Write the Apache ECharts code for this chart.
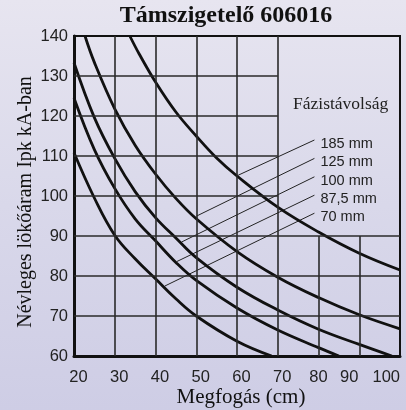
<!DOCTYPE html>
<html>
<head>
<meta charset="utf-8">
<script src="https://cdn.jsdelivr.net/npm/echarts@6/dist/echarts.min.js"></script>
<style>
html,body{margin:0;padding:0;width:406px;height:410px;overflow:hidden;
background:linear-gradient(to bottom,#e7e5f0 0%,#d9d8ea 50%,#cecde5 100%);}
#c{width:406px;height:410px;}
</style>
</head>
<body>
<div id="c"></div>
<script>
// ---- data ----
const titleText = 'Támszigetelő 606016';
const xName = 'Megfogás (cm)';
const yName = 'Névleges lökőáram Ipk kA-ban';
const legendTitle = 'Fázistávolság';
const curveNames = ['185 mm', '125 mm', '100 mm', '87,5 mm', '70 mm'];

const c185 = [[33.7,140],[36,135.5],[40,128.5],[45,121],[50,115],[55,109.5],[60,105],[70,97.2],[80,91],[90,85.7],[100,81.5]];
const c125 = [[22.7,140],[25,133.4],[30,121.8],[35,112.7],[40,105.5],[45,99.4],[50,94.3],[60,86.1],[70,79.7],[80,74.6],[90,70.3],[100,66.8]];
const c100 = [[20,133.3],[25,119.6],[30,109.4],[35,101.1],[40,94.6],[45,89.5],[50,84.6],[60,77.2],[70,71.5],[80,66.7],[90,62.9],[98,60]];
const c875 = [[20,124.5],[25,111.6],[30,101.9],[35,94.3],[40,88.8],[45,83.4],[50,78.9],[60,72],[70,66.5],[80,62.1],[85,60]];
const c70  = [[20,110.8],[25,99.5],[30,90.2],[35,84.3],[40,79.3],[45,74.3],[50,70],[60,63.7],[68.5,60]];

// leader lines: [point on curve, point next to label]
const l185 = [[60.3,105.2],[79,114]];
const l125 = [[50.1,95],[79,109.4]];
const l100 = [[46.4,88.5],[79,104.8]];
const l875 = [[45.2,83.6],[79,100.2]];
const l70  = [[42.3,77.5],[79,95.7]];

// axis ranges / grid lines
const xMin = 20, xMax = 100, xStep = 10;
const yMin = 60, yMax = 140, yStep = 10;
const hLinesFull = [70, 80, 90];
const hLinesPart = [100, 110, 120, 130];   // drawn from xMin to 70
const hPartEnd = 70;
const vLinesFull = [30, 40, 50, 60, 70];
const vLinesPart = [80, 90];               // drawn from yMin to 90
const vPartEnd = 90;

// ---- chart ----
const curves = [c185, c125, c100, c875, c70];
const leaders = [l185, l125, l100, l875, l70];

const gridMarks = [];
hLinesFull.forEach(v => gridMarks.push([{coord:[xMin,v]},{coord:[xMax,v]}]));
hLinesPart.forEach(v => gridMarks.push([{coord:[xMin,v]},{coord:[hPartEnd,v]}]));
vLinesFull.forEach(v => gridMarks.push([{coord:[v,yMin]},{coord:[v,yMax]}]));
vLinesPart.forEach(v => gridMarks.push([{coord:[v,yMin]},{coord:[v,vPartEnd]}]));

const SANS = '"Liberation Sans", Arial, Helvetica, sans-serif';
const SERIF = '"Liberation Serif", "Times New Roman", serif';

const series = [];
series.push({
  type:'line', data:[], silent:true, z:1,
  markLine:{
    silent:true, symbol:['none','none'], label:{show:false},
    lineStyle:{color:'#2a2a2a', width:1.6, type:'solid'},
    emphasis:{disabled:true},
    data: gridMarks
  }
});
curves.forEach((d, i) => {
  series.push({
    name: curveNames[i], type:'line', data:d, smooth:0.4, showSymbol:false, symbol:'none',
    lineStyle:{color:'#111', width:2.8}, silent:true, z:4
  });
});
leaders.forEach((d, i) => {
  series.push({
    name: curveNames[i] + ' leader', type:'line', data:d, showSymbol:false, symbol:'none',
    lineStyle:{color:'#222', width:1}, silent:true, z:3,
    endLabel:{show:true, formatter: curveNames[i], distance:6, offset:[0,4],
      color:'#222', fontFamily:SANS, fontSize:14.5}
  });
});

const chart = echarts.init(document.getElementById('c'), null, {renderer:'canvas'});
chart.setOption({
  animation:false,
  backgroundColor:'transparent',
  grid:{left:74, right:6, top:36, bottom:54, containLabel:false, outerBoundsMode:'none',
    show:true, borderColor:'#111', borderWidth:2, backgroundColor:'transparent'},
  graphic:[
    {type:'text', x:226, y:16, style:{text:titleText, fill:'#111', textAlign:'center', textVerticalAlign:'middle',
      font:'bold 24px ' + SERIF}},
    {type:'text', x:293, y:104, style:{text:legendTitle, fill:'#222', textVerticalAlign:'middle',
      font:'17.5px ' + SERIF}},
    {type:'text', x:26, y:202, rotation:Math.PI/2, style:{text:yName, fill:'#111', textAlign:'center', textVerticalAlign:'middle',
      font:'20px ' + SERIF}},
    {type:'text', x:241, y:397, style:{text:xName, fill:'#111', textAlign:'center', textVerticalAlign:'middle',
      font:'21px ' + SERIF}}
  ],
  xAxis:{
    type:'value', min:xMin, max:xMax, interval:xStep,
    axisLine:{show:true, lineStyle:{color:'#111', width:3}},
    axisTick:{show:false}, splitLine:{show:false},
    axisLabel:{fontFamily:SANS, fontSize:16.5, color:'#222', margin:13, alignMaxLabel:'right',
      formatter: function(v){ if (v <= 70) return '{r|' + v + '}'; if (v === 90) return '{l|' + v + '}'; return '' + v; },
      rich:{ r:{padding:[0,0,0,9], fontFamily:SANS, fontSize:16.5, color:'#222'},
             l:{padding:[0,20,0,0], fontFamily:SANS, fontSize:16.5, color:'#222'} }
    }
  },
  yAxis:{
    type:'value', min:yMin, max:yMax, interval:yStep,
    axisLine:{show:true, lineStyle:{color:'#111', width:3}},
    axisTick:{show:false}, splitLine:{show:false},
    axisLabel:{fontFamily:SANS, fontSize:16.5, color:'#222', margin:6}
  },
  series: series
});
</script>
</body>
</html>
